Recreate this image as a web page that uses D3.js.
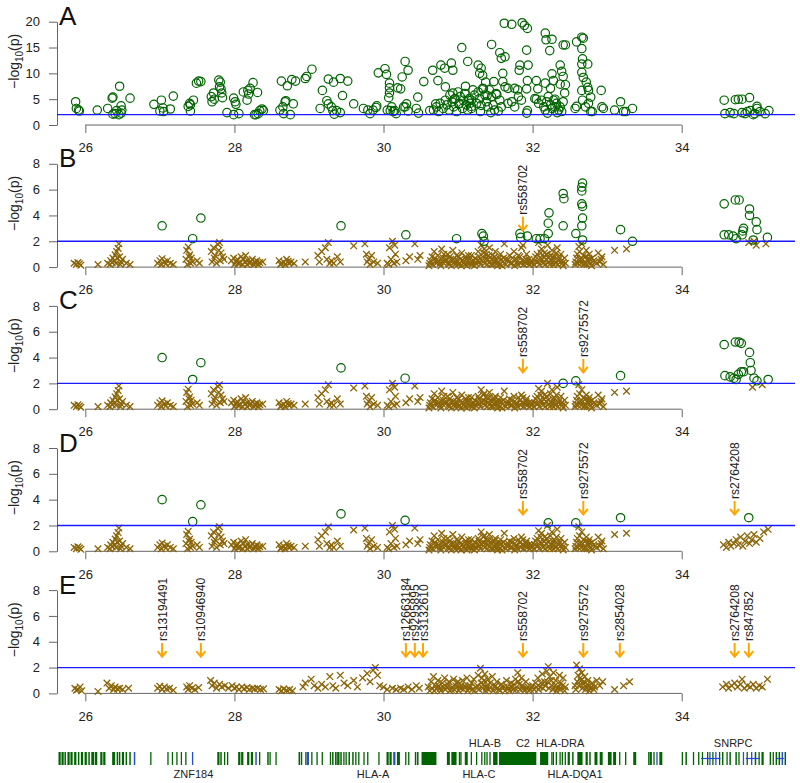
<!DOCTYPE html>
<html>
<head>
<meta charset="utf-8">
<script src="https://cdn.jsdelivr.net/npm/d3@7"></script>
<style>
body { margin: 0; background: #fff; }
</style>
</head>
<body>
<svg id="chart"></svg>
<script>
const fontFamily = '"Liberation Sans", Arial, Helvetica, sans-serif';

// panels
const panelLetters = ['A', 'B', 'C', 'D', 'E'];
const panelMax = [20, 8, 8, 8, 8];
const xTicks = [26, 28, 30, 32, 34];
const yTicksA = [0, 5, 10, 15, 20];
const yTicksB = [0, 2, 4, 6, 8];
const threshold = 2;

// panel A: all significant SNPs (position Mb, -log10 p)
const circA = [
  [25.87,4.5],[25.88,3.2],[25.91,2.9],[25.92,2.7],[26.16,2.9],[26.3,3.2],[26.36,5.2],[26.37,5.4],[26.37,2.1],[26.4,2.2],
  [26.42,2.8],[26.46,7.5],[26.48,3.7],[26.48,2.3],[26.45,2.0],[26.49,2.9],[26.6,5.2],
  [26.92,4.0],[27.02,4.8],[27.0,2.7],[27.04,3.3],[27.05,2.6],[27.14,3.1],[27.18,5.6],
  [27.38,3.6],[27.4,4.2],[27.41,2.7],[27.41,3.9],[27.45,4.8],[27.49,8.1],[27.52,8.5],[27.55,8.4],
  [27.69,5.5],[27.7,4.5],[27.72,6.2],[27.73,5.0],[27.79,8.7],[27.81,8.3],[27.82,7.0],[27.83,6.2],[27.84,5.3],[27.8,7.4],[27.9,2.4],
  [27.99,5.2],[28.01,4.5],[28.02,4.0],[27.99,2.0],[28.06,2.2],[28.12,6.4],[28.17,4.8],[28.18,6.7],[28.19,6.0],[28.21,7.1],
  [28.25,8.2],[28.31,6.3],[28.29,2.0],[28.32,2.2],[28.34,2.8],[28.37,3.1],[28.27,2.0],[28.39,2.8],
  [28.63,8.5],[28.61,2.9],[28.65,3.5],[28.66,2.2],[28.68,4.5],[28.69,4.7],[28.71,7.6],[28.77,8.8],[28.75,2.0],[28.79,4.1],[28.82,8.5],
  [28.95,9.0],[28.97,9.4],[29.04,10.8],[29.15,3.2],[29.18,6.7],[29.24,4.7],[29.26,4.1],[29.26,8.9],[29.3,3.5],[29.32,2.8],
  [29.33,8.3],[29.34,2.1],[29.37,2.8],[29.42,2.4],[29.42,9.0],[29.45,5.7],[29.52,8.5],[29.6,4.1],
  [29.73,3.2],[29.79,2.9],[29.82,2.2],[29.86,2.9],[29.9,3.4],[29.91,3.7],[29.93,10.1],[30.02,10.9],[30.04,9.8],[30.08,8.1],
  [30.08,7.2],[30.08,6.2],[30.07,5.3],[30.09,2.8],[30.11,3.5],[30.15,2.8],[30.17,2.2],[30.19,7.2],[30.05,2.9],[30.13,2.6],
  [30.29,12.3],[30.33,10.6],[30.25,9.3],[30.23,7.0],[30.31,4.1],[30.27,3.5],[30.29,3.5],[30.33,2.7],[30.44,3.2],[30.46,5.4],
  [30.47,2.3],[30.54,8.4],[30.62,2.8],[30.66,10.6],[30.7,4.1],[30.73,8.6],[30.77,11.6],[30.82,11.0],[30.83,7.4],[30.91,12.0],
  [30.93,10.6],[30.93,6.2],[30.95,5.0],[31.01,4.1],[31.05,15.0],[31.1,7.5],[31.13,12.3],[31.14,4.8],[31.18,3.6],
  [30.67,2.9],[30.71,3.5],[30.74,2.6],[30.76,4.2],[30.8,3.2],[30.83,4.8],[30.85,3.9],[30.88,2.9],[30.89,5.8],[30.92,4.5],
  [30.94,3.5],[30.96,5.1],[30.98,2.6],[31.0,6.4],[31.02,4.2],[31.03,5.5],[31.06,3.2],[31.07,4.8],[31.09,6.1],[31.11,3.9],
  [31.13,2.9],[31.15,5.1],[31.16,4.2],[31.18,3.2],[31.2,6.8],
  [31.18,4.8],[31.22,5.8],[31.25,4.2],[31.27,6.4],[31.29,5.1],[31.31,3.8],[31.33,7.1],[31.36,5.8],[31.38,4.5],[31.4,3.5],
  [31.42,6.8],[31.45,5.5],[31.47,3.9],[31.49,2.9],[31.51,6.1],[31.56,4.8],[31.58,3.5],[31.63,7.4],[31.67,4.2],[31.72,4.5],
  [31.76,3.5],[31.81,5.5],[31.85,4.8],[31.92,2.3],[31.3,2.6],[31.44,2.4],[31.54,2.7],
  [31.27,11.6],[31.29,10.0],[31.31,11.0],[31.33,9.6],[31.34,7.0],[31.37,8.3],[31.39,5.7],[31.45,15.6],[31.48,8.4],[31.52,5.9],
  [31.56,14.0],[31.58,12.9],[31.6,8.4],[31.6,10.0],[31.63,13.2],[31.62,19.7],[31.72,19.5],[31.67,7.1],[31.76,7.1],[31.8,6.8],
  [31.82,10.6],[31.83,11.6],[31.86,19.8],[31.89,19.3],[31.93,18.7],[31.92,14.5],[31.94,11.6],[31.93,8.6],[31.92,7.0],[31.93,2.8],
  [32.05,8.6],[32.07,7.0],[32.05,5.0],[32.17,17.8],[32.18,16.5],[32.23,14.4],[32.26,16.6],[32.17,8.1],[32.24,7.1],[32.28,8.6],
  [32.26,9.9],[32.3,5.0],[32.37,11.6],[32.39,10.4],[32.41,15.5],[32.44,15.5],[32.41,9.4],[32.44,7.8],[32.43,6.2],[32.37,7.9],
  [32.03,5.1],[32.08,4.2],[32.12,4.8],[32.15,3.5],[32.17,2.9],[32.19,4.5],[32.21,5.5],[32.24,3.9],[32.26,3.2],[32.28,4.8],
  [32.3,3.5],[32.32,4.2],[32.35,2.9],[32.37,3.5],[32.39,2.6],[32.41,4.5],[32.2,2.3],[32.33,2.4],
  [32.59,16.1],[32.66,17.0],[32.68,16.8],[32.66,14.8],[32.67,12.8],[32.66,11.8],[32.66,10.2],[32.68,9.2],[32.72,8.3],[32.74,7.3],
  [32.74,11.8],[32.75,6.7],[32.78,5.4],[32.66,6.7],[32.67,4.8],[32.59,3.6],[32.78,2.6],[32.92,6.7],[32.95,3.2],[32.57,3.2],
  [32.71,3.5],[32.8,2.6],[32.93,3.5],[32.75,4.2],[33.1,2.9],[33.18,4.5],[33.22,2.6],[33.25,2.6],[33.34,3.2],
  [34.57,4.8],[34.72,4.9],[34.76,5.0],[34.81,5.0],[34.91,5.3],[35.01,3.6],[35.01,3.2],[34.58,2.2],[34.65,2.4],[34.7,2.2],
  [34.81,2.4],[34.88,2.6],[34.85,2.2],[34.96,2.0],[34.98,2.2],[35.05,2.6],[35.12,2.2],[35.17,2.8],[34.92,2.8]
];

// panels B-E: significant SNPs (circles) and the rest (crosses)
const circB = [
  [27.03,3.2],[27.44,2.2],[27.55,3.8],[29.43,3.2],[30.3,2.5],[30.98,2.2],[31.32,2.6],[31.34,2.4],[31.35,2.0],
  [31.83,2.6],[31.84,2.3],[31.93,2.4],[32.05,2.2],[32.1,2.2],[32.16,2.2],[32.22,4.2],[32.21,3.4],[32.21,2.6],
  [32.41,5.7],[32.42,5.3],[32.41,3.2],[32.58,2.6],[32.67,6.5],[32.66,6.2],[32.66,5.9],[32.66,4.9],[32.67,4.7],
  [32.67,3.8],[32.66,3.2],[32.67,2.1],[33.18,2.9],[33.34,2.0],
  [34.57,4.9],[34.72,5.2],[34.77,5.2],[34.91,4.5],[34.91,4.0],[35.0,3.5],[35.01,2.9],[34.57,2.5],[34.63,2.5],
  [34.69,2.4],[34.81,2.5],[34.82,2.8],[34.83,3.0],[34.73,2.2],[34.96,2.1],[35.15,2.3]
];
const circC = [
  [27.03,4.0],[27.44,2.3],[27.55,3.6],[29.43,3.2],[30.29,2.4],[32.41,2.0],[32.58,2.2],[33.18,2.6],
  [34.57,5.0],[34.72,5.2],[34.77,5.2],[34.8,5.1],[34.91,4.4],[34.92,3.6],[34.93,3.0],[34.58,2.6],[34.65,2.5],
  [34.7,2.4],[34.76,2.7],[34.8,2.9],[34.83,2.9],[34.97,2.4],[35.01,2.2],[35.16,2.3],[34.73,2.3]
];
const circD = [
  [27.03,4.0],[27.44,2.3],[27.55,3.6],[29.43,2.9],[30.29,2.4],[32.21,2.2],[32.58,2.2],[33.18,2.6],[34.9,2.6]
];

// crosses away from the MHC, same in B, C and D
const crossLow = [
  [25.85,0.3],[25.88,0.2],[25.9,0.35],[25.92,0.25],[25.94,0.15],[26.17,0.2],
  [26.3,0.3],[26.34,0.5],[26.37,0.7],[26.4,0.95],[26.42,1.2],[26.44,1.45],[26.45,1.8],[26.46,0.8],[26.48,0.4],
  [26.5,0.6],[26.55,0.3],[26.6,0.2],[26.33,0.2],[26.36,0.35],[26.39,0.5],[26.41,0.3],[26.43,0.7],[26.47,0.2],
  [26.97,0.3],[27.0,0.5],[27.03,0.65],[27.06,0.4],[27.1,0.5],[27.14,0.3],[27.18,0.2],[27.02,0.2],[27.08,0.25],
  [27.35,0.6],[27.36,1.3],[27.38,1.55],[27.4,0.95],[27.42,0.7],[27.44,0.4],[27.5,0.5],[27.53,0.3],[27.37,0.2],[27.39,0.8],[27.41,0.3],
  [27.69,1.2],[27.72,1.5],[27.74,0.9],[27.78,1.75],[27.8,1.9],[27.82,1.1],[27.84,0.8],[27.86,0.6],
  [27.7,0.4],[27.73,0.7],[27.76,0.3],[27.79,1.3],[27.81,0.5],
  [27.96,0.5],[27.99,0.7],[28.02,0.4],[28.05,0.3],[28.09,0.8],[28.12,0.6],[28.15,0.9],[28.18,0.5],[28.2,0.3],
  [28.24,0.6],[28.27,0.4],[28.3,0.5],[28.34,0.35],[28.38,0.4],[28.0,0.2],[28.04,0.6],[28.07,0.3],[28.11,0.2],
  [28.14,0.4],[28.17,0.2],[28.22,0.4],[28.26,0.2],[28.29,0.3],[28.32,0.2],
  [28.6,0.5],[28.63,0.3],[28.66,0.4],[28.7,0.6],[28.73,0.3],[28.76,0.4],[28.8,0.3],[28.95,0.4],[28.62,0.2],[28.68,0.2],[28.72,0.45],
  [29.12,0.9],[29.17,1.2],[29.22,1.5],[29.26,1.9],[29.3,0.5],[29.33,0.3],[29.38,0.8],[29.42,0.4],[29.6,1.65],
  [29.14,0.4],[29.24,0.6],[29.28,0.3],
  [29.75,1.8],[29.77,1.0],[29.8,0.6],[29.84,0.9],[29.87,0.4],[29.92,0.3],[29.78,0.4],[29.82,0.2],
  [30.05,0.3],[30.08,1.5],[30.1,0.6],[30.12,2.0],[30.15,1.7],[30.18,0.4],[30.07,0.2],[30.14,0.3],[30.16,1.0],
  [30.3,0.5],[30.35,0.8],[30.42,1.8],[30.46,0.6],[30.49,0.9]
];
// low crosses filling the MHC band, same in B, C and D
const crossFillMhc = [
  [30.61,0.1],[30.63,0.5],[30.66,0.2],[30.69,0.7],[30.71,0.3],[30.74,0.5],[30.77,0.1],[30.79,0.4],[30.81,1.0],[30.84,0.6],
  [30.87,0.3],[30.89,0.8],[30.91,0.1],[30.94,0.6],[30.96,0.2],[30.99,0.5],[31.01,0.8],[31.02,0.3],[31.04,0.1],[31.06,0.5],
  [31.09,0.2],[31.11,0.6],[31.12,0.1],[31.14,0.9],[31.16,0.3],[31.19,0.2],[31.21,0.5],[31.22,0.1],[31.24,0.3],
  [31.26,0.5],[31.28,0.8],[31.3,0.2],[31.32,0.5],[31.34,1.1],[31.37,0.6],[31.39,0.2],[31.41,0.9],[31.43,0.4],[31.45,0.6],
  [31.47,0.2],[31.49,0.8],[31.51,0.5],[31.53,0.1],[31.54,0.4],[31.56,0.2],[31.58,0.6],[31.59,0.1],[31.61,0.7],
  [31.64,0.2],[31.67,0.6],[31.7,0.3],[31.73,0.7],[31.76,0.1],[31.79,0.4],[31.81,0.9],[31.84,0.3],[31.86,0.5],[31.88,0.2],
  [31.91,0.6],[31.93,0.3],[31.96,0.2],[31.99,0.5],
  [32.02,0.2],[32.04,0.8],[32.07,0.4],[32.09,0.2],[32.11,1.1],[32.13,0.6],[32.15,0.8],[32.17,0.2],[32.19,1.0],[32.21,0.7],
  [32.23,0.2],[32.25,0.5],[32.27,0.8],[32.29,0.5],[32.31,0.3],[32.32,1.1],[32.34,0.2],[32.36,0.7],[32.39,0.5],[32.41,0.1],
  [32.44,0.3],
  [32.57,0.2],[32.59,0.7],[32.61,0.3],[32.63,1.2],[32.65,0.3],[32.67,0.6],[32.69,0.2],[32.71,0.8],[32.73,0.2],[32.75,0.7],
  [32.77,0.6],[32.79,0.1],[32.82,0.5],[32.86,0.3],[32.9,0.4],[32.93,0.8]
];
const crossMhcB = [
  [30.62,0.3],[30.65,0.8],[30.68,1.2],[30.7,0.5],[30.73,0.9],[30.76,0.3],[30.78,1.4],[30.8,0.7],[30.83,0.4],[30.86,1.0],
  [30.88,0.2],[30.9,0.6],[30.93,1.3],[30.95,0.4],[30.98,0.9],[31.0,0.2],[31.03,0.6],[31.05,1.1],[31.08,0.4],[31.1,0.8],
  [31.13,0.3],[31.15,0.6],[31.18,0.9],[31.2,0.4],[31.23,0.7],
  [31.27,1.2],[31.29,0.4],[31.31,1.7],[31.33,0.8],[31.35,1.4],[31.36,0.3],[31.38,1.0],[31.4,0.6],[31.42,1.5],[31.44,0.2],
  [31.46,0.9],[31.48,0.5],[31.5,1.2],[31.52,0.3],[31.55,0.7],[31.57,1.0],[31.6,0.4],[31.62,1.8],
  [31.66,0.5],[31.69,0.9],[31.72,0.3],[31.75,1.2],[31.78,0.6],[31.8,0.2],[31.83,0.8],[31.85,1.5],[31.87,1.7],[31.9,0.4],
  [31.92,1.0],[31.95,0.6],[31.98,0.3],
  [32.03,0.5],[32.06,1.0],[32.08,1.9],[32.1,0.7],[32.12,1.4],[32.14,0.3],[32.16,1.1],[32.18,0.6],[32.2,1.7],[32.22,0.4],
  [32.24,0.9],[32.26,1.3],[32.28,0.2],[32.3,0.8],[32.33,1.5],[32.35,0.5],[32.38,1.0],[32.4,0.3],[32.43,0.7],
  [32.58,0.4],[32.6,1.0],[32.62,1.6],[32.64,0.6],[32.66,1.8],[32.68,0.9],[32.7,0.3],[32.72,1.3],[32.74,0.5],[32.76,1.0],
  [32.78,0.3],[32.8,0.7],[32.84,0.4],[32.88,1.1],[32.92,0.6],[32.95,0.2],[33.1,1.3],[33.26,1.4]
];
const crossMhcCD = [
  [30.62,0.3],[30.65,0.8],[30.68,1.2],[30.7,0.5],[30.73,0.9],[30.76,0.3],[30.78,1.4],[30.8,0.7],[30.83,0.4],[30.86,1.0],
  [30.88,0.2],[30.9,0.6],[30.93,1.3],[30.95,0.4],[30.98,0.9],[31.0,0.2],[31.03,0.6],[31.05,1.1],[31.08,0.4],[31.1,0.8],
  [31.13,0.3],[31.15,0.6],[31.18,0.9],[31.2,0.4],[31.23,0.7],
  [31.27,1.0],[31.29,0.4],[31.31,1.5],[31.33,0.7],[31.35,1.2],[31.36,0.3],[31.38,0.9],[31.4,0.5],[31.42,1.3],[31.44,0.2],
  [31.46,0.8],[31.48,0.4],[31.5,1.0],[31.52,0.3],[31.55,0.6],[31.57,0.9],[31.6,0.4],[31.62,1.4],
  [31.66,0.4],[31.69,0.8],[31.72,0.3],[31.75,1.0],[31.78,0.5],[31.8,0.2],[31.83,0.7],[31.85,1.1],[31.87,0.9],[31.9,0.4],
  [31.92,0.8],[31.95,0.5],[31.98,0.3],
  [32.03,0.5],[32.06,1.0],[32.08,1.6],[32.1,0.7],[32.12,1.4],[32.14,0.3],[32.16,1.1],[32.18,0.6],[32.2,2.0],[32.22,0.4],
  [32.24,1.2],[32.26,1.5],[32.28,0.2],[32.3,0.8],[32.33,1.7],[32.35,0.5],[32.38,1.0],[32.4,0.3],[32.43,0.7],
  [32.58,0.4],[32.6,1.0],[32.62,1.9],[32.64,0.6],[32.66,1.5],[32.68,0.9],[32.7,0.3],[32.72,1.1],[32.74,0.5],[32.76,0.9],
  [32.78,0.3],[32.8,0.7],[32.84,0.4],[32.88,1.1],[32.92,0.6],[32.95,0.2],[33.1,1.3],[33.26,1.4]
];
const crossRightB = [[34.9,1.9],[34.97,2.0],[35.0,1.7],[35.13,1.8]];
const crossRightC = [[34.95,1.7],[35.08,1.9]];
const crossRightD = [
  [34.56,0.5],[34.6,0.3],[34.63,0.7],[34.66,0.4],[34.7,0.6],[34.73,0.9],[34.76,0.5],[34.79,1.1],[34.82,0.4],
  [34.85,0.8],[34.88,1.2],[34.91,0.6],[34.94,0.9],[34.97,1.3],[35.0,0.7],[35.05,1.0],[35.1,1.5],[35.16,1.7]
];
const crossE = [
  [25.86,0.4],[25.88,0.25],[25.9,0.3],[25.93,0.5],[25.95,0.2],[26.17,0.15],
  [26.29,0.8],[26.32,0.4],[26.35,0.6],[26.38,0.3],[26.4,0.5],[26.43,0.35],[26.46,0.4],[26.5,0.3],[26.58,0.4],
  [26.97,0.4],[27.0,0.55],[27.03,0.3],[27.06,0.5],[27.09,0.35],[27.13,0.4],[27.18,0.25],
  [27.36,0.5],[27.38,0.3],[27.4,0.6],[27.43,0.4],[27.47,0.3],[27.52,0.45],
  [27.68,1.0],[27.7,0.6],[27.73,0.8],[27.76,0.4],[27.8,0.7],[27.83,0.5],[27.87,0.6],[27.92,0.4],
  [27.97,0.6],[28.0,0.4],[28.03,0.5],[28.06,0.3],[28.1,0.5],[28.13,0.35],[28.17,0.45],[28.2,0.3],[28.24,0.4],
  [28.27,0.35],[28.31,0.4],[28.35,0.3],[28.39,0.35],
  [28.6,0.3],[28.63,0.2],[28.66,0.35],[28.7,0.25],[28.74,0.3],[28.78,0.2],
  [28.92,0.5],[28.95,0.8],[29.03,1.1],[29.07,0.6],[29.12,0.4],[29.17,0.7],
  [29.22,0.5],[29.28,1.3],[29.32,0.6],[29.36,0.4],[29.42,1.4],[29.47,0.8],[29.52,0.6],[29.6,1.0],[29.65,0.5],
  [29.72,1.2],[29.78,1.55],[29.82,0.9],[29.86,1.8],[29.89,2.0],[29.92,1.4],[29.95,0.6],[30.0,0.5],[30.05,0.3],
  [30.12,0.4],[30.17,0.3],[30.23,0.4],[30.27,0.3],[30.33,0.5],[30.38,0.3],[30.44,0.6],[30.48,0.4],
  [30.6,0.5],[30.64,0.9],[30.67,1.3],[30.7,0.6],[30.73,1.0],[30.76,0.4],[30.79,0.8],[30.82,1.2],[30.85,0.5],[30.88,0.9],
  [30.91,0.3],[30.94,1.1],[30.97,0.6],[31.0,0.9],[31.03,0.4],[31.06,1.0],[31.09,0.6],[31.12,1.2],[31.15,0.4],[31.18,0.8],
  [31.21,1.1],[31.24,0.5],
  [31.27,1.4],[31.3,1.95],[31.32,1.2],[31.34,0.7],[31.36,1.5],[31.38,0.4],[31.4,1.1],[31.43,0.8],[31.46,1.3],[31.49,0.5],
  [31.52,0.9],[31.55,0.3],[31.58,0.7],
  [31.62,0.5],[31.65,1.0],[31.68,0.4],[31.71,0.8],[31.74,0.3],[31.77,1.1],[31.8,1.6],[31.82,0.7],[31.85,1.2],[31.88,0.4],
  [31.91,0.9],[31.94,0.5],[31.97,0.3],[32.0,0.6],
  [32.04,0.8],[32.07,1.2],[32.1,0.5],[32.13,1.5],[32.16,0.9],[32.19,1.7],[32.21,2.07],[32.23,1.3],[32.26,0.6],[32.28,1.6],
  [32.31,1.0],[32.33,0.4],[32.36,1.4],[32.38,0.8],[32.41,1.2],[32.44,0.5],
  [32.57,0.6],[32.59,2.2],[32.61,1.4],[32.63,1.9],[32.65,1.0],[32.66,1.6],[32.68,0.7],[32.7,1.3],[32.72,0.5],[32.74,1.0],
  [32.77,0.4],[32.8,0.8],[32.83,0.5],[32.86,1.0],[32.9,0.6],[32.94,0.9],[33.1,0.3],[33.22,0.6],[33.3,0.9],
  [34.55,0.5],[34.6,0.7],[34.63,0.4],[34.67,0.6],[34.71,0.8],[34.75,0.5],[34.79,0.7],[34.81,1.1],[34.84,0.4],[34.88,0.6],
  [34.92,0.5],[34.96,0.7],[35.0,0.4],[35.04,0.6],[35.08,0.5],[35.15,1.1]
];
const crossFillE = [
  [30.62,0.2],[30.65,0.4],[30.68,0.2],[30.71,0.35],[30.74,0.6],[30.77,0.2],[30.8,0.5],[30.83,0.3],[30.86,0.7],[30.89,0.2],
  [30.92,0.5],[30.95,0.3],[30.98,0.8],[31.01,0.2],[31.04,0.6],[31.07,0.3],[31.1,0.5],[31.13,0.2],[31.16,0.6],[31.19,0.3],
  [31.22,0.2],[31.26,0.6],[31.28,0.3],[31.31,0.8],[31.33,0.4],[31.35,1.0],[31.37,0.2],[31.39,0.6],[31.41,0.3],[31.44,0.5],
  [31.47,0.2],[31.5,0.6],[31.53,0.4],[31.56,0.2],[31.59,0.5],
  [31.63,0.2],[31.66,0.5],[31.69,0.2],[31.72,0.5],[31.75,0.7],[31.78,0.3],[31.81,0.9],[31.83,0.3],[31.86,0.6],[31.89,0.2],
  [31.92,0.4],[31.95,0.2],[31.98,0.5],
  [32.02,0.3],[32.05,0.5],[32.08,0.3],[32.11,0.8],[32.14,0.4],[32.17,0.6],[32.2,0.9],[32.22,0.4],[32.25,1.0],[32.27,0.3],
  [32.3,0.6],[32.32,0.2],[32.35,0.5],[32.37,0.3],[32.4,0.6],[32.43,0.2],
  [32.58,0.3],[32.6,0.9],[32.62,0.6],[32.64,1.2],[32.67,0.4],[32.69,0.9],[32.71,0.3],[32.73,0.7],[32.76,0.2],[32.79,0.5],
  [32.82,0.3]
];

// conditioned SNPs
const snpNames = ['rs13194491', 'rs10946940', 'rs12663184', 'rs9295895', 'rs3132610', 'rs558702', 'rs9275572', 'rs2854028', 'rs2764208', 'rs847852'];
const snpPos = [27.03, 27.55, 30.30, 30.42, 30.53, 31.87, 32.68, 33.17, 34.71, 34.90];
const annotB = ['rs558702'];
const annotC = ['rs558702', 'rs9275572'];
const annotD = ['rs558702', 'rs9275572', 'rs2764208'];
const annotE = snpNames;

// gene track (start, end in Mb)
const greenGenes = [
  [25.64,25.67],[25.68,25.71],[25.72,25.74],[25.76,25.79],[25.80,25.83],[25.85,25.88],[25.90,25.92],[25.94,25.97],
  [25.99,26.02],[26.04,26.06],[26.08,26.12],[26.13,26.16],[26.2,26.23],[26.24,26.27],[26.36,26.4],[26.42,26.44],
  [26.45,26.47],[26.49,26.52],[26.54,26.56],[26.59,26.61],[26.87,26.875],[27.1,27.105],[27.16,27.165],[27.22,27.225],
  [27.28,27.285],[27.34,27.345],[27.77,27.8],[27.81,27.83],[27.86,27.87],[27.9,27.905],[28.05,28.08],
  [28.09,28.12],[28.17,28.2],[28.22,28.25],[28.33,28.34],[28.44,28.46],[28.47,28.48],[28.55,28.56],
  [28.86,28.88],[28.89,28.91],[28.95,28.96],[29.03,29.04],[29.1,29.105],[29.17,29.175],[29.28,29.29],[29.31,29.33],
  [29.35,29.36],[29.37,29.38],[29.39,29.41],[29.42,29.44],[29.46,29.47],[29.49,29.5],[29.53,29.55],[29.58,29.6],
  [29.62,29.63],[29.66,29.67],[29.73,29.735],[29.78,29.785],[29.93,29.935],[30.04,30.07],[30.08,30.11],[30.18,30.22],
  [30.29,30.295],[30.33,30.335],[30.42,30.44],[30.45,30.47],[30.51,30.71],[30.85,30.89],[30.91,30.98],[31.01,31.02],
  [31.03,31.04],[31.09,31.13],[31.17,31.175],[31.24,31.245],[31.31,31.315],[31.35,31.355],[31.38,31.385],[31.42,31.425],
  [31.47,31.53],[31.55,32.05],[32.1,32.21],[32.25,32.26],[32.27,32.28],[32.31,32.315],[32.36,32.365],[32.39,32.4],
  [32.43,32.44],[32.47,32.5],[32.53,32.55],[32.6,32.67],[32.71,32.74],[32.76,32.78],[32.83,32.87],[32.9,32.94],
  [33.01,33.06],[33.08,33.12],[33.16,33.165],[33.24,33.245],[33.35,33.39],[33.55,33.56],[33.57,33.6],[33.62,33.63],
  [33.7,33.74],[34.0,34.01],[34.05,34.07],[34.15,34.16],[34.22,34.23],[34.27,34.28],[34.34,34.35],[34.41,34.42],
  [34.5,34.51],[34.54,34.56],[34.6,34.61],[34.64,34.66],[34.72,34.74],[34.76,34.77],[34.87,34.88],[34.98,35.0],
  [35.03,35.04],[35.07,35.1],[35.18,35.2],[35.22,35.23],[35.26,35.28],[35.3,35.32],[35.38,35.4]
];
const blueGenes = [
  [26.65,26.67],[27.43,27.435],[28.28,28.3],[28.97,29.0],[30.13,30.16],[33.66,33.67],[34.37,34.38],[34.45,34.46],
  [34.82,34.83],[34.93,34.94],[35.34,35.36]
];
const blueIntrons = [[34.26,34.52], [34.86,35.05], [35.27,35.37]];
const geneNames = ['ZNF184', 'HLA-A', 'HLA-B', 'C2', 'HLA-DRA', 'HLA-C', 'HLA-DQA1', 'SNRPC'];
const genePos = [27.45, 29.86, 31.36, 31.87, 32.37, 31.28, 32.57, 34.69];
const geneRow = ['below', 'below', 'above', 'above', 'above', 'below', 'below', 'above'];

// ------------------------------------------------------------------
const width = 800, height = 783;
const greenCol = '#006400', crossCol = '#8B6508', lineCol = '#1a1aff', arrowCol = '#FFA500';
const axisCol = '#666', textCol = '#222';

let svg = d3.select('#chart').attr('width', width).attr('height', height)
    .style('font-family', fontFamily);
svg.append('rect').attr('width', width).attr('height', height).attr('fill', '#fff');

let x = d3.scaleLinear().domain([25.62, 35.52]).range([57, 795]);

let panelCircles = [circA, circB, circC, circD, []];
let panelCrosses = [
    [],
    crossLow.concat(crossFillMhc, crossMhcB, crossRightB),
    crossLow.concat(crossFillMhc, crossMhcCD, crossRightC),
    crossLow.concat(crossFillMhc, crossMhcCD, crossRightD),
    crossE.concat(crossFillE)
];
let panelAnnots = [[], annotB, annotC, annotD, annotE];

function drawPanel(i) {
    let bottom = 125 + i * 142.1;
    let top = bottom - 103.3;
    let y = d3.scaleLinear().domain([0, panelMax[i]]).range([bottom, top]);
    let g = svg.append('g');

    // y axis
    g.append('g')
        .attr('transform', `translate(${x.range()[0]}, 0)`)
        .call(d3.axisLeft(y).tickValues(i === 0 ? yTicksA : yTicksB).tickSize(8).tickSizeOuter(0).tickPadding(9))
        .attr('font-family', fontFamily)
        .attr('font-size', 13)
        .call(a => a.selectAll('line, path').attr('stroke', axisCol))
        .call(a => a.selectAll('text').attr('fill', textCol));

    // x axis, line only from first to last tick like R
    let ax = g.append('g')
        .attr('transform', `translate(0, ${bottom})`)
        .call(d3.axisBottom(x).tickValues(xTicks).tickSize(8).tickSizeOuter(0).tickPadding(10))
        .attr('font-family', fontFamily)
        .attr('font-size', 13);
    ax.select('.domain').remove();
    ax.append('line')
        .attr('x1', x(xTicks[0])).attr('x2', x(xTicks[xTicks.length - 1]))
        .attr('y1', 0).attr('y2', 0);
    ax.selectAll('line').attr('stroke', axisCol);
    ax.selectAll('text').attr('fill', textCol);

    // y label
    let lab = g.append('text')
        .attr('transform', `translate(19, ${(top + bottom) / 2 - 12}) rotate(-90)`)
        .attr('text-anchor', 'middle')
        .attr('font-size', 14)
        .attr('fill', textCol);
    lab.append('tspan').text('\u2212log');
    lab.append('tspan').attr('font-size', 10).attr('dy', 4).text('10');
    lab.append('tspan').attr('dy', -4).text('(p)');

    // panel letter
    g.append('text')
        .attr('x', 59).attr('y', top + 3.5)
        .attr('font-size', 26)
        .attr('fill', '#111')
        .text(panelLetters[i]);

    // crosses
    g.append('g').selectAll('path')
        .data(panelCrosses[i])
        .enter().append('path')
        .attr('transform', d => `translate(${x(d[0])}, ${y(d[1])})`)
        .attr('d', 'M-3.3,-3.3L3.3,3.3M-3.3,3.3L3.3,-3.3')
        .attr('stroke', crossCol)
        .attr('stroke-width', 1.3)
        .attr('fill', 'none');

    // circles
    g.append('g').selectAll('circle')
        .data(panelCircles[i])
        .enter().append('circle')
        .attr('cx', d => x(d[0]))
        .attr('cy', d => y(d[1]))
        .attr('r', 4.2)
        .attr('fill', 'none')
        .attr('stroke', greenCol)
        .attr('stroke-width', 1.2);

    // threshold p = 0.01
    g.append('line')
        .attr('x1', x.range()[0]).attr('x2', x.range()[1])
        .attr('y1', y(threshold)).attr('y2', y(threshold))
        .attr('stroke', lineCol)
        .attr('stroke-width', 1.4);

    // conditioned SNP arrows
    let ann = g.append('g').selectAll('g')
        .data(panelAnnots[i])
        .enter().append('g')
        .attr('transform', d => `translate(${x(snpPos[snpNames.indexOf(d)])}, 0)`);
    ann.append('line')
        .attr('x1', 0).attr('x2', 0)
        .attr('y1', y(3.9)).attr('y2', y(2.85))
        .attr('stroke', arrowCol).attr('stroke-width', 2);
    ann.append('path')
        .attr('d', `M-4.5,${y(2.85) - 5.5}L0,${y(2.85)}L4.5,${y(2.85) - 5.5}`)
        .attr('stroke', arrowCol).attr('stroke-width', 2).attr('fill', 'none');
    ann.append('text')
        .attr('transform', `translate(4.5, ${y(4.05)}) rotate(-90)`)
        .attr('font-size', 12)
        .attr('fill', textCol)
        .text(d => d);
}

for (let i = 0; i < panelLetters.length; i++) drawPanel(i);

// gene track
let gt = svg.append('g');
let geneTop = 752, geneH = 13;
gt.selectAll('rect.green')
    .data(greenGenes)
    .enter().append('rect')
    .attr('class', 'green')
    .attr('x', d => x(d[0]))
    .attr('width', d => Math.max(x(d[1]) - x(d[0]), 1.3))
    .attr('y', geneTop).attr('height', geneH)
    .attr('fill', greenCol);
gt.selectAll('line.intron')
    .data(blueIntrons)
    .enter().append('line')
    .attr('class', 'intron')
    .attr('x1', d => x(d[0])).attr('x2', d => x(d[1]))
    .attr('y1', geneTop + geneH / 2).attr('y2', geneTop + geneH / 2)
    .attr('stroke', '#2244dd').attr('stroke-width', 1.2);
gt.selectAll('rect.blue')
    .data(blueGenes)
    .enter().append('rect')
    .attr('class', 'blue')
    .attr('x', d => x(d[0]))
    .attr('width', d => Math.max(x(d[1]) - x(d[0]), 1.3))
    .attr('y', geneTop).attr('height', geneH)
    .attr('fill', '#2a4cc9');
gt.selectAll('text')
    .data(geneNames)
    .enter().append('text')
    .attr('x', (d, i) => x(genePos[i]))
    .attr('y', (d, i) => geneRow[i] === 'above' ? 747 : 778)
    .attr('text-anchor', 'middle')
    .attr('font-size', 11)
    .attr('fill', textCol)
    .text(d => d);
</script>
</body>
</html>
